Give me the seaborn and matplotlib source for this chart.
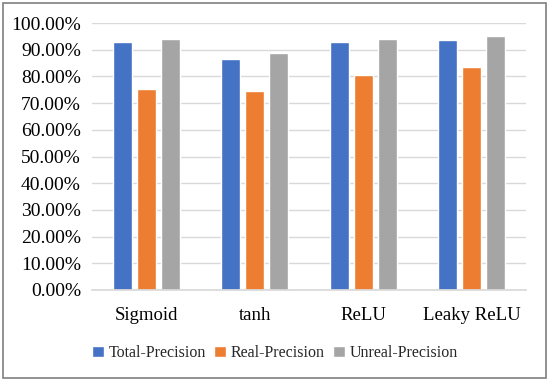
import pandas as pd
import seaborn as sns
import matplotlib.pyplot as plt
from matplotlib.patches import Rectangle
from matplotlib.ticker import FuncFormatter, MultipleLocator

# -------------------------------------------------
# Data (precision per activation function, in %)
# -------------------------------------------------
activations = ["Sigmoid", "tanh", "ReLU", "Leaky ReLU"]
total_precision = [92.9, 86.4, 92.8, 93.6]
real_precision = [75.3, 74.4, 80.5, 83.5]
unreal_precision = [94.1, 88.8, 93.9, 95.2]
series_names = ["Total-Precision", "Real-Precision", "Unreal-Precision"]
colors = ["#4472C4", "#ED7D31", "#A5A5A5"]

df = pd.DataFrame({
    "Activation": activations * 3,
    "Metric": [series_names[0]] * 4 + [series_names[1]] * 4 + [series_names[2]] * 4,
    "Value": total_precision + real_precision + unreal_precision,
})

# -------------------------------------------------
# Plot
# -------------------------------------------------
sns.set_theme(style="white")
plt.rcParams["font.family"] = ["Liberation Serif", "DejaVu Serif"]

fig = plt.figure(figsize=(5.5, 3.81), dpi=100)
ax = fig.add_axes([92 / 550, 1 - 290 / 381, 434 / 550, 267 / 381])

sns.barplot(
    data=df, x="Activation", y="Value", hue="Metric",
    palette=colors, saturation=1, width=0.66, gap=0.2, ax=ax, legend=True,
)

ax.set_ylim(0, 100)
ax.set_xlim(-0.5, 3.5)
ax.yaxis.set_major_locator(MultipleLocator(10))
ax.yaxis.set_major_formatter(FuncFormatter(lambda v, _: f"{v:.2f}%"))
ax.grid(axis="y", color="#D9D9D9", linewidth=1)
ax.set_axisbelow(True)
for s in ["top", "right", "left"]:
    ax.spines[s].set_visible(False)
ax.spines["bottom"].set_color("#D9D9D9")
ax.set_xlabel("")
ax.set_ylabel("")
ax.tick_params(axis="y", labelsize=14, colors="#000000", pad=8, length=0)
ax.tick_params(axis="x", labelsize=13.5, colors="#000000", pad=12, length=0)

ax.legend(
    loc="center", bbox_to_anchor=(0.5, 1 - 353 / 381), bbox_transform=fig.transFigure,
    ncol=3, frameon=False, fontsize=11.5, handlelength=0.75, handleheight=0.75,
    handletextpad=0.3, columnspacing=0.5,
)

# outer chart border
fig.patches.append(Rectangle((3 / 550, 3 / 381), 543 / 550, 375 / 381, transform=fig.transFigure,
                             fill=False, edgecolor="#7F7F7F", linewidth=1.2))

plt.savefig("out.png", dpi=100)
